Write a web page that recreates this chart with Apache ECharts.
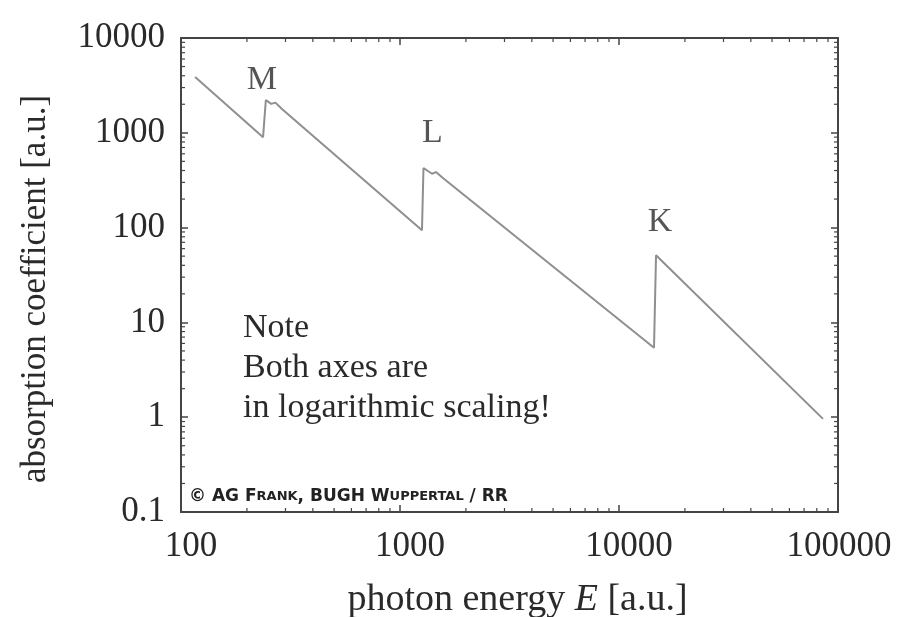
<!DOCTYPE html>
<html>
<head>
<meta charset="utf-8">
<script src="https://cdn.jsdelivr.net/npm/echarts@6/dist/echarts.min.js"></script>
<style>html,body{margin:0;padding:0;background:#fff;}#c{width:899px;height:617px;}</style>
</head>
<body>
<div id="c"></div>
<script>
// photon energy E [a.u.] and absorption coefficient [a.u.]
const energy     = [116, 237, 244, 258, 270, 289, 1260, 1280, 1400, 1460, 1570, 14450, 14760, 85400];
const absorption = [3880, 900, 2220, 2020, 2080, 1780, 94, 425, 370, 385, 334, 5.4, 51, 0.96];
// absorption edges
const edgeNames      = ['M', 'L', 'K'];
const edgeEnergy     = [244, 1280, 14760];
const edgeAbsorption = [2220, 425, 51];
// axis ticks
const xTickLabels = [100, 1000, 10000, 100000];
const yTickLabels = [0.1, 1, 10, 100, 1000, 10000];
const minorFactors = [2, 3, 4, 5, 6, 7, 8, 9];
const noteLines = ['Note', 'Both axes are', 'in logarithmic scaling!'];

const FONT = 'Liberation Serif';
const TXT = '#2a2a2a';
const FRAME = '#444';
const xMin = xTickLabels[0], xMax = xTickLabels[xTickLabels.length - 1];
const yMin = yTickLabels[0], yMax = yTickLabels[yTickLabels.length - 1];

const minorData = [];
xTickLabels.slice(0, -1).forEach(d => minorFactors.forEach(f => minorData.push([d * f, yMin, 0])));
yTickLabels.slice(0, -1).forEach(d => minorFactors.forEach(f => minorData.push([xMin, d * f, 1])));

const fmt = v => String(+(+v).toPrecision(6));
const xFmt = v => {
  const s = fmt(v);
  return Math.abs(+v - xMax) < 1e-6 * xMax ? '{e|' + s + '}' : s;
};
const labelOffsets = [[-4, -20], [9, -35], [4, -33]];

const baseAxis = {
  type: 'log', logBase: 10,
  axisLine: { show: true, lineStyle: { color: FRAME, width: 2 } },
  axisTick: { show: true, inside: true, length: 7, lineStyle: { color: FRAME, width: 1.5 } },
  splitLine: { show: false },
  minorTick: { show: false }
};

const chart = echarts.init(document.getElementById('c'), null, { renderer: 'canvas' });
chart.setOption({
  animation: false,
  backgroundColor: '#fff',
  grid: { left: 181, right: 61, top: 38, bottom: 105, containLabel: false, outerBoundsMode: 'none' },
  xAxis: [
    Object.assign({}, baseAxis, {
      position: 'bottom', min: xMin, max: xMax,
      axisLabel: { show: true, formatter: xFmt, color: TXT, fontFamily: FONT, fontSize: 35, margin: 17, padding: [0, 0, 0, 20],
        rich: { e: { color: TXT, fontFamily: FONT, fontSize: 35, padding: [0, 18, 0, 0] } } },
      name: 'photon energy {i|E} [a.u.]', nameLocation: 'middle', nameGap: 69,
      nameTextStyle: { color: TXT, fontFamily: FONT, fontSize: 38, padding: [0, 0, 0, 16],
        rich: { i: { fontStyle: 'italic', fontFamily: FONT, fontSize: 38, color: TXT } } }
    }),
    Object.assign({}, baseAxis, { position: 'top', min: xMin, max: xMax, axisLabel: { show: false } })
  ],
  yAxis: [
    Object.assign({}, baseAxis, {
      position: 'left', min: yMin, max: yMax,
      axisLabel: { show: true, formatter: fmt, color: TXT, fontFamily: FONT, fontSize: 35, margin: 16 },
      name: 'absorption coefficient [a.u.]', nameLocation: 'middle', nameGap: 128,
      nameTextStyle: { color: TXT, fontFamily: FONT, fontSize: 35, padding: [0, 28, 0, 0] }
    }),
    Object.assign({}, baseAxis, { position: 'right', min: yMin, max: yMax, axisLabel: { show: false } })
  ],
  series: [
    {
      type: 'line',
      data: energy.map((e, i) => [e, absorption[i]]),
      symbol: 'none',
      lineStyle: { color: '#8f8f8f', width: 2 },
      z: 3
    },
    {
      type: 'scatter',
      data: edgeNames.map((n, i) => ({
        name: n, value: [edgeEnergy[i], edgeAbsorption[i]],
        label: { offset: labelOffsets[i] }
      })),
      symbolSize: 0,
      label: { show: true, position: 'inside', formatter: '{b}', color: TXT, fontFamily: FONT, fontSize: 34 },
      z: 4
    },
    {
      type: 'custom',
      coordinateSystem: 'cartesian2d',
      dimensions: ['x', 'y', 'kind'],
      encode: { x: 0, y: 1 },
      clip: false,
      silent: true,
      data: minorData,
      renderItem: function (params, api) {
        const v0 = api.value(0), v1 = api.value(1), kind = api.value(2);
        const L = 4;
        const st = { stroke: FRAME, lineWidth: 1.2 };
        if (kind === 0) {
          const b = api.coord([v0, yMin]), t = api.coord([v0, yMax]);
          return { type: 'group', children: [
            { type: 'line', shape: { x1: b[0], y1: b[1], x2: b[0], y2: b[1] - L }, style: st },
            { type: 'line', shape: { x1: t[0], y1: t[1], x2: t[0], y2: t[1] + L }, style: st }
          ] };
        }
        const l = api.coord([xMin, v1]), r = api.coord([xMax, v1]);
        return { type: 'group', children: [
          { type: 'line', shape: { x1: l[0], y1: l[1], x2: l[0] + L, y2: l[1] }, style: st },
          { type: 'line', shape: { x1: r[0], y1: r[1], x2: r[0] - L, y2: r[1] }, style: st }
        ] };
      },
      z: 2
    }
  ],
  graphic: [
    {
      type: 'text', left: 243, top: 308,
      style: { text: noteLines.join('\n'), font: '34px "' + FONT + '"', fill: TXT, lineHeight: 40 }
    },
    {
      type: 'text', left: 189, top: 488,
      style: {
        text: '{c|© AG F}{s|RANK}{c|, BUGH W}{s|UPPERTAL}{c| / RR}',
        rich: {
          c: { fontFamily: 'DejaVu Sans', fontWeight: 'bold', fontSize: 17, fill: '#222' },
          s: { fontFamily: 'DejaVu Sans', fontWeight: 'bold', fontSize: 13, fill: '#222' }
        }
      }
    }
  ]
});
</script>
</body>
</html>
